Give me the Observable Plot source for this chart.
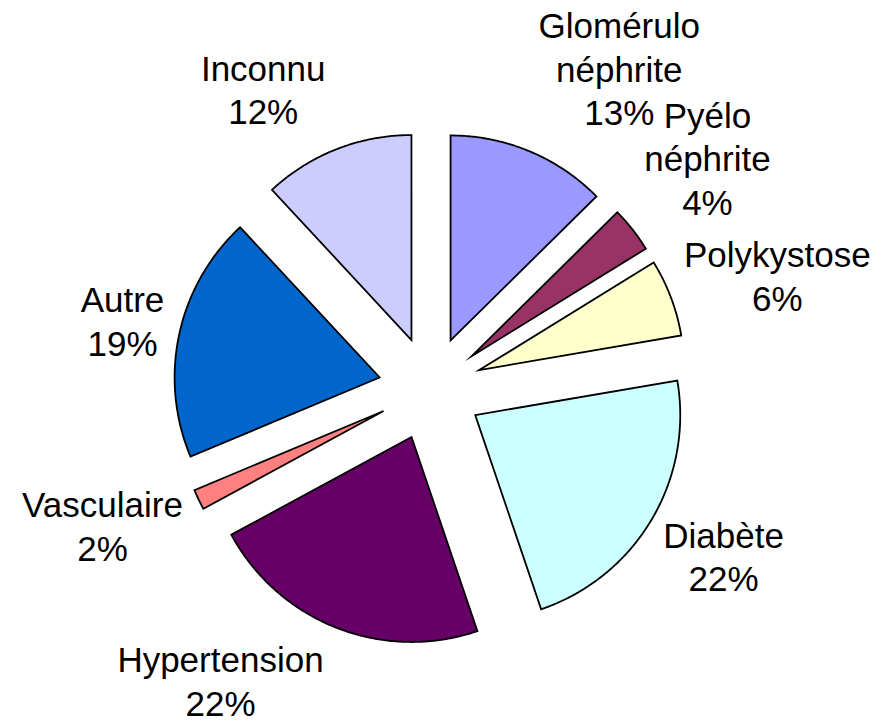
<!DOCTYPE html>
<html>
<head>
<meta charset="utf-8">
<script src="https://cdn.jsdelivr.net/npm/d3@7"></script>
<script src="https://cdn.jsdelivr.net/npm/@observablehq/plot@0.6"></script>
<style>
  html, body { margin: 0; padding: 0; background: #fff; overflow: hidden; }
  #chart svg { display: block; }
</style>
</head>
<body>
<div id="chart"></div>
<script>
// ---- data ----
const categories = ["Glomérulo néphrite", "Pyélo néphrite", "Polykystose", "Diabète", "Hypertension", "Vasculaire", "Autre", "Inconnu"];
const shares = [12.6, 3.6, 6.1, 22.49, 22.3, 1.6, 19.4, 11.91];
const colors = ["#9999FF", "#993366", "#FFFFCC", "#CCFFFF", "#660066", "#FF8080", "#0066CC", "#CCCCFF"];

// ---- label layout (angle nudge in degrees, distance in pie radii) ----
const labelNudge = [7.8, -1.7, 2.6, -1.1, 14.4, 3.0, 0.3, -7.7];
const labelRadius = [1.815, 1.76, 1.78, 1.645, 1.752, 1.733, 1.539, 1.676];

const W = 881, H = 725;
const R = 205;            // pie radius in px (one data unit)
const cx = 430, cy = 388; // pie centre in px
const explode = 0.254;    // explosion distance in radii

const total = d3.sum(shares);
const arcs = d3.pie().sort(null).value(d => d)(shares);

const slicePts = [];
arcs.forEach((p, i) => {
  const mid = (p.startAngle + p.endAngle) / 2;
  const ox = explode * Math.sin(mid), oy = -explode * Math.cos(mid);
  slicePts.push({k: i, x: ox, y: oy, fill: colors[i]});
  const n = Math.max(2, Math.ceil((p.endAngle - p.startAngle) / (Math.PI / 360)));
  for (let j = 0; j <= n; j++) {
    const a = p.startAngle + (p.endAngle - p.startAngle) * j / n;
    slicePts.push({k: i, x: ox + Math.sin(a), y: oy - Math.cos(a), fill: colors[i]});
  }
});

const labels = arcs.map((p, i) => {
  const a = (p.startAngle + p.endAngle) / 2 + labelNudge[i] * Math.PI / 180;
  return {
    x: labelRadius[i] * Math.sin(a),
    y: -labelRadius[i] * Math.cos(a),
    text: categories[i].split(" ").join("\n") + "\n" + Math.round(shares[i] / total * 100) + "%"
  };
});

const chart = Plot.plot({
  width: W,
  height: H,
  margin: 0,
  x: {domain: [-cx / R, (W - cx) / R], range: [0, W], axis: null},
  y: {domain: [-cy / R, (H - cy) / R], range: [0, H], axis: null},
  color: {type: "identity"},
  style: {background: "#fff", fontFamily: "'Liberation Sans', Arial, sans-serif"},
  marks: [
    Plot.line(slicePts, {
      x: "x", y: "y", z: "k", fill: "fill",
      stroke: "#000", strokeWidth: 1.8,
      curve: "linear-closed",
      strokeLinejoin: "miter", strokeMiterlimit: 10
    }),
    Plot.text(labels, {
      x: "x", y: "y", text: "text",
      fontSize: 35, lineHeight: 1.243,
      lineAnchor: "middle", textAnchor: "middle",
      fill: "#000",
      fontFamily: "'Liberation Sans', Arial, sans-serif"
    })
  ]
});
document.getElementById("chart").appendChild(chart);
</script>
</body>
</html>
